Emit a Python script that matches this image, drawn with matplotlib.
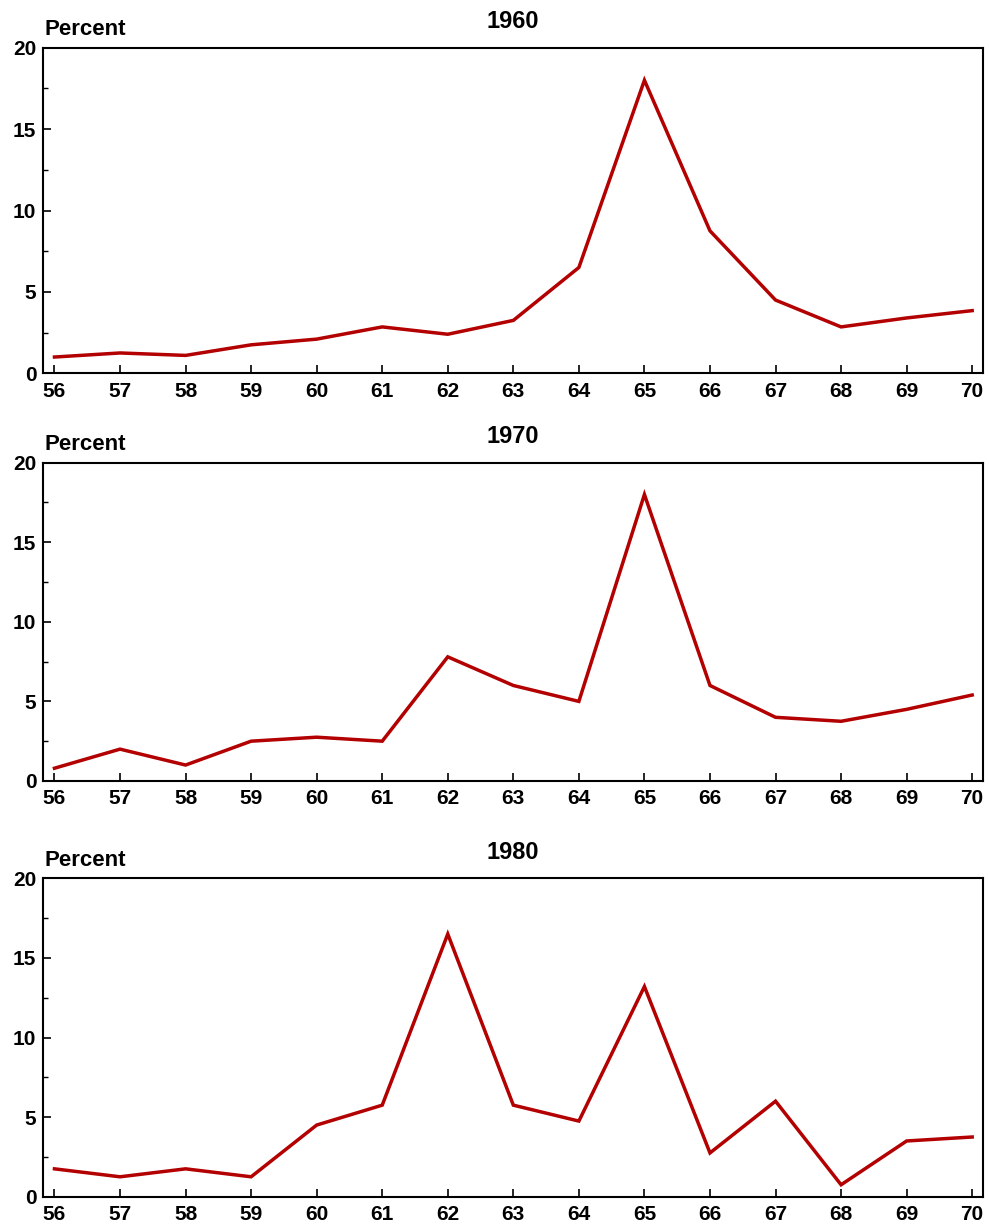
import matplotlib
matplotlib.use('Agg')
import matplotlib.pyplot as plt
from matplotlib.ticker import MultipleLocator

years = list(range(56, 71))
year_labels = [str(y) for y in years]
panel_titles = ['1960', '1970', '1980']

pct_1960 = [1.0, 1.25, 1.1, 1.75, 2.1, 2.85, 2.4, 3.25, 6.5, 18.0, 8.75, 4.5, 2.85, 3.4, 3.85]
pct_1970 = [0.8, 2.0, 1.0, 2.5, 2.75, 2.5, 7.8, 6.0, 5.0, 18.0, 6.0, 4.0, 3.75, 4.5, 5.4]
pct_1980 = [1.75, 1.25, 1.75, 1.25, 4.5, 5.75, 16.5, 5.75, 4.75, 13.2, 2.75, 6.0, 0.75, 3.5, 3.75]

plt.rcParams['font.family'] = ['Liberation Sans', 'DejaVu Sans']
plt.rcParams['font.weight'] = 'bold'

fig = plt.figure(figsize=(9.89, 12.26), dpi=100)

# axes boxes in figure fraction (left, bottom, width, height)
boxes = [
    (0.0438, 0.6955, 0.9498, 0.2656),
    (0.0438, 0.3630, 0.9498, 0.2596),
    (0.0438, 0.0239, 0.9498, 0.2597),
]
series = [pct_1960, pct_1970, pct_1980]

for box, title, vals in zip(boxes, panel_titles, series):
    ax = fig.add_axes(box)
    ax.plot(years, vals, color='#b30000', lw=2.5, solid_joinstyle='miter')
    ax.set_xlim(55.83, 70.16)
    ax.set_ylim(0, 20)
    ax.set_xticks(years)
    ax.set_xticklabels(year_labels)
    ax.yaxis.set_major_locator(MultipleLocator(5))
    ax.yaxis.set_minor_locator(MultipleLocator(2.5))
    ax.tick_params(axis='both', which='major', direction='in', length=6, width=1.2,
                   labelsize=15)
    ax.tick_params(axis='x', which='major', pad=6)
    ax.tick_params(axis='y', which='major', pad=5)
    ax.tick_params(axis='y', which='minor', direction='in', length=3.5, width=1.0)
    ax.tick_params(top=False, right=False)
    for lab in ax.get_xticklabels() + ax.get_yticklabels():
        lab.set_fontweight('bold')
    for sp in ax.spines.values():
        sp.set_linewidth(1.5)
    ax.set_title(title, fontsize=17, fontweight='bold', pad=14)
    ax.annotate('Percent', xy=(0.001, 1.0), xycoords='axes fraction',
                xytext=(0, 9), textcoords='offset points', fontsize=16,
                fontweight='bold', ha='left', va='baseline')

fig.savefig('out.png', dpi=100)
